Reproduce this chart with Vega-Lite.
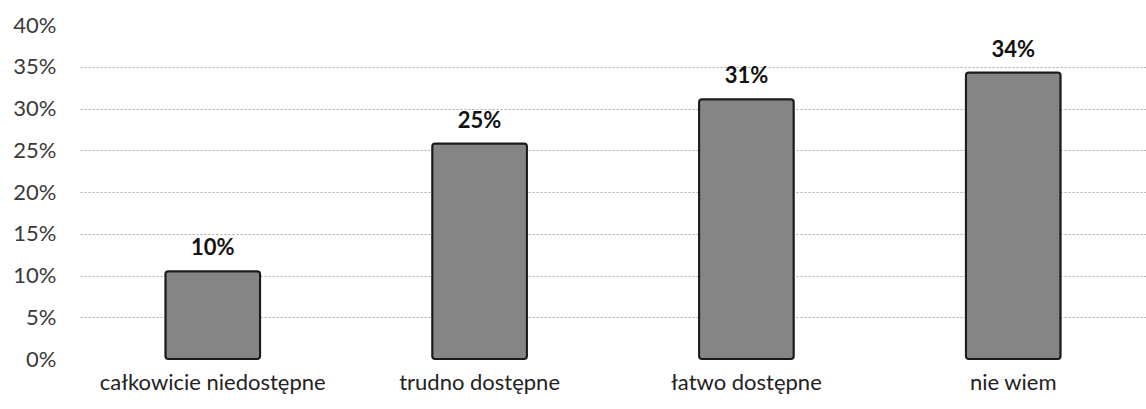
{
  "$schema": "https://vega.github.io/schema/vega-lite/v6.json",
  "autosize": "none",
  "width": 1066,
  "height": 334,
  "padding": {"left": 80, "top": 25, "right": 0, "bottom": 50},
  "background": "white",
  "data": {"values": [
    {"kategoria": "całkowicie niedostępne", "wartosc": 0.105, "etykieta": "10%"},
    {"kategoria": "trudno dostępne", "wartosc": 0.258, "etykieta": "25%"},
    {"kategoria": "łatwo dostępne", "wartosc": 0.311, "etykieta": "31%"},
    {"kategoria": "nie wiem", "wartosc": 0.343, "etykieta": "34%"}
  ]},
  "config": {
    "view": {"stroke": null},
    "font": "Lato"
  },
  "encoding": {
    "x": {
      "field": "kategoria", "type": "nominal", "sort": null,
      "scale": {"paddingInner": 0.645, "paddingOuter": 0.32},
      "axis": {"title": null, "labelAngle": 0, "domain": false, "ticks": false, "labelFontSize": 22, "labelColor": "#222", "labelPadding": 13, "labelLimit": 0}
    },
    "y": {
      "field": "wartosc", "type": "quantitative",
      "scale": {"domain": [0, 0.4], "nice": false},
      "axis": {"title": null, "format": ".0%", "values": [0, 0.05, 0.1, 0.15, 0.2, 0.25, 0.3, 0.35, 0.4], "labelOverlap": false, "domain": false, "ticks": false, "labelFontSize": 22, "labelColor": "#3a3a3a", "labelPadding": 24, "grid": true, "gridColor": "#aaa", "gridDash": [2, 2], "gridWidth": 1,
        "gridOpacity": {"condition": {"test": "datum.value >= 0.4 || datum.value <= 0", "value": 0}, "value": 1}}
    }
  },
  "layer": [
    {"mark": {"type": "bar", "fill": "#858585", "stroke": "#1a1a1a", "strokeWidth": 2, "cornerRadius": 3}},
    {"mark": {"type": "text", "baseline": "bottom", "dy": -11, "fontSize": 22, "fontWeight": "bold", "color": "#111"},
     "encoding": {"text": {"field": "etykieta"}}}
  ]
}
